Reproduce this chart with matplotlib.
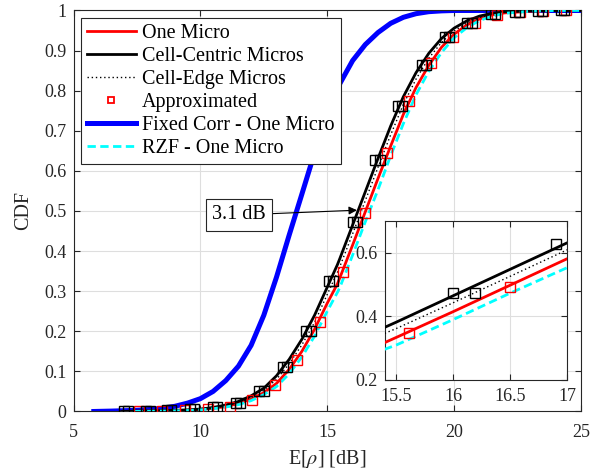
import numpy as np
import matplotlib
matplotlib.use('Agg')
import matplotlib.pyplot as plt

plt.rcParams['font.family'] = ['Liberation Serif', 'DejaVu Serif']
plt.rcParams['mathtext.fontset'] = 'stix'

# curves (x in dB, y = CDF)
blk_x = [6.9, 7.5, 8.5, 9.5, 10.0, 10.5, 11.0, 11.5, 12.0, 12.5, 13.0, 13.5, 14.0, 14.5, 15.0, 15.4, 15.5,
         16.0, 16.5, 17.0, 17.5, 18.0, 18.5, 19.0, 19.5, 20.0, 20.5, 21.0, 21.5, 22.0, 23.0, 24.0, 25.0]
blk_y = [0.0, 0.001, 0.002, 0.004, 0.006, 0.010, 0.016, 0.025, 0.039, 0.058, 0.089, 0.130, 0.180, 0.240, 0.310,
         0.366, 0.382, 0.465, 0.548, 0.631, 0.712, 0.785, 0.845, 0.893, 0.930, 0.956, 0.974, 0.986, 0.993, 0.997,
         0.999, 1.0, 1.0]

dot_x = [7.0, 7.5, 8.5, 9.5, 10.0, 10.5, 11.0, 11.5, 12.0, 12.5, 13.0, 13.5, 14.0, 14.5, 15.0, 15.4, 15.5,
         16.0, 16.5, 17.0, 17.5, 18.0, 18.5, 19.0, 19.5, 20.0, 20.5, 21.0, 21.5, 22.0, 23.0, 24.0, 25.0]
dot_y = [0.0, 0.001, 0.002, 0.003, 0.005, 0.009, 0.014, 0.022, 0.035, 0.053, 0.080, 0.119, 0.166, 0.222, 0.292,
         0.347, 0.362, 0.443, 0.526, 0.609, 0.690, 0.766, 0.829, 0.881, 0.920, 0.949, 0.969, 0.982, 0.991, 0.995,
         0.999, 1.0, 1.0]

red_x = [7.3, 7.5, 8.5, 9.5, 10.0, 10.5, 11.0, 11.5, 12.0, 12.5, 13.0, 13.5, 14.0, 14.5, 15.0, 15.4, 15.5,
         16.0, 16.5, 17.0, 17.5, 18.0, 18.5, 19.0, 19.5, 20.0, 20.5, 21.0, 21.5, 22.0, 23.0, 24.0, 25.0]
red_y = [0.0, 0.0005, 0.0015, 0.003, 0.005, 0.008, 0.012, 0.020, 0.031, 0.047, 0.070, 0.105, 0.150, 0.205, 0.270,
         0.318, 0.334, 0.415, 0.498, 0.581, 0.662, 0.741, 0.808, 0.863, 0.908, 0.941, 0.964, 0.979, 0.989, 0.994,
         0.998, 1.0, 1.0]

cyan_x = [7.4, 7.5, 8.5, 9.5, 10.0, 10.5, 11.0, 11.5, 12.0, 12.5, 13.0, 13.5, 14.0, 14.5, 15.0, 15.4, 15.5,
          16.0, 16.5, 17.0, 17.5, 18.0, 18.5, 19.0, 19.5, 20.0, 20.5, 21.0, 21.5, 22.0, 23.0, 24.0, 25.0]
cyan_y = [0.0, 0.0003, 0.001, 0.0025, 0.004, 0.007, 0.011, 0.017, 0.027, 0.042, 0.062, 0.094, 0.136, 0.188, 0.250,
          0.297, 0.310, 0.390, 0.473, 0.553, 0.638, 0.718, 0.790, 0.848, 0.895, 0.932, 0.957, 0.975, 0.986, 0.993,
          0.998, 1.0, 1.0]

blu_x = [5.8, 6.5, 7.0, 7.5, 8.0, 8.5, 9.0, 9.5, 10.0, 10.5, 11.0, 11.5, 12.0, 12.5, 13.0, 13.5, 14.0, 14.5,
         15.0, 15.5, 16.0, 16.5, 17.0, 17.5, 18.0, 18.5, 19.0, 19.5, 20.0, 21.0, 22.0, 23.0, 24.0, 25.0]
blu_y = [0.0, 0.001, 0.002, 0.003, 0.005, 0.008, 0.013, 0.021, 0.032, 0.050, 0.077, 0.113, 0.165, 0.240, 0.335,
         0.440, 0.542, 0.645, 0.740, 0.818, 0.875, 0.915, 0.945, 0.968, 0.983, 0.992, 0.997, 0.999, 1.0, 1.0,
         1.0, 1.0, 1.0, 1.0]

# approximation markers
sq_cc_x = [7.0, 7.85, 8.7, 9.6, 10.5, 11.4, 12.33, 13.26, 14.15, 15.06, 16.0, 16.9, 17.8, 18.72, 19.63,
           20.5, 21.45, 22.4, 23.3, 24.2]
sq_ce_x = [7.15, 8.0, 8.85, 9.75, 10.65, 11.56, 12.5, 13.43, 14.35, 15.23, 16.19, 17.08, 17.96, 18.88, 19.8,
           20.7, 21.6, 22.55, 23.45, 24.35]
sq_blk_y = [0.001, 0.002, 0.003, 0.005, 0.010, 0.022, 0.051, 0.110, 0.200, 0.325, 0.472, 0.627, 0.762, 0.864,
            0.935, 0.970, 0.990, 0.997, 0.999, 1.0]
sq_red_x = [7.6, 8.5, 9.4, 10.3, 11.17, 12.04, 12.94, 13.8, 14.7, 15.61, 16.5, 17.36, 18.22, 19.08, 19.95,
            20.82, 21.7, 22.6, 23.5, 24.4]
sq_red_y = [0.001, 0.002, 0.003, 0.005, 0.010, 0.029, 0.066, 0.128, 0.224, 0.347, 0.494, 0.644, 0.775, 0.870,
            0.935, 0.968, 0.988, 0.996, 0.999, 1.0]

AX_COL = '#262626'
GRID_COL = '#dedede'
FS = 14.5


def draw(ax):
    ax.plot(blu_x, blu_y, color='#0000ff', lw=3.6, label='Fixed Corr - One Micro', zorder=2)
    ax.plot(red_x, red_y, color='#ff0000', lw=2.0, label='One Micro', zorder=3)
    ax.plot(blk_x, blk_y, color='k', lw=2.0, label='Cell-Centric Micros', zorder=3)
    ax.plot(dot_x, dot_y, color='k', lw=1.0, ls=(0, (1, 2)), label='Cell-Edge Micros', zorder=3)
    ax.plot(cyan_x, cyan_y, color='#00ffff', lw=2.0, ls=(0, (3, 1.6)), label='RZF - One Micro', zorder=3)
    ax.plot(sq_red_x, sq_red_y, ls='none', marker='s', ms=6.5, mfc='none', mec='#ff0000', mew=1.0,
            label='Approximated', zorder=4)
    ax.plot(sq_cc_x, sq_blk_y, ls='none', marker='s', ms=6.5, mfc='none', mec='k', mew=1.0, zorder=4)
    ax.plot(sq_ce_x, sq_blk_y, ls='none', marker='s', ms=6.5, mfc='none', mec='k', mew=1.0, zorder=4)


def style(ax):
    ax.grid(True, color=GRID_COL, lw=0.8)
    ax.set_axisbelow(True)
    ax.tick_params(direction='in', top=True, right=True, colors=AX_COL, labelsize=13, length=4)
    ax.tick_params(axis='x', pad=9)
    ax.tick_params(axis='y', pad=5)
    for s in ax.spines.values():
        s.set_color(AX_COL)
        s.set_linewidth(0.8)


fig = plt.figure(figsize=(6.02, 4.70), dpi=100)
ax = fig.add_axes([0.1221, 0.1245, 0.843, 0.8532])
draw(ax)
style(ax)
ax.set_xlim(5, 25)
ax.set_ylim(0, 1)
ax.set_xticks([5, 10, 15, 20, 25])
ax.set_yticks(np.arange(0, 1.01, 0.1))
ax.set_yticklabels(['0', '0.1', '0.2', '0.3', '0.4', '0.5', '0.6', '0.7', '0.8', '0.9', '1'])
ax.set_xlabel(r'E[$\rho$] [dB]', fontsize=FS, color=AX_COL, labelpad=5)
ax.set_ylabel('CDF', fontsize=FS, color=AX_COL, labelpad=8)

h, l = ax.get_legend_handles_labels()
order = ['One Micro', 'Cell-Centric Micros', 'Cell-Edge Micros', 'Approximated',
         'Fixed Corr - One Micro', 'RZF - One Micro']
hd = dict(zip(l, h))
leg = ax.legend([hd[k] for k in order], order, loc='upper left', fontsize=FS, frameon=True, fancybox=False,
                edgecolor=AX_COL, framealpha=1, borderaxespad=0.35, labelspacing=0.2, handlelength=2.45,
                handletextpad=0.3, borderpad=0.3)
leg.get_frame().set_linewidth(0.8)
leg.legend_handles[3].set_markersize(5)
leg.legend_handles[3].set_markeredgewidth(1.3)
leg.set_zorder(5)

ax.annotate('3.1 dB', xy=(16.17, 0.502), xytext=(11.53, 0.49), fontsize=FS, ha='center', va='center',
            bbox=dict(boxstyle='square,pad=0.3', fc='white', ec=AX_COL, lw=0.8),
            arrowprops=dict(arrowstyle='-|>', color='k', lw=0.8, mutation_scale=12, shrinkA=0, shrinkB=0),
            zorder=6)

ins = fig.add_axes([0.6395, 0.1915, 0.3023, 0.3383])
draw(ins)
style(ins)
ins.tick_params(axis='x', pad=6)
ins.set_xlim(15.4, 17)
ins.set_ylim(0.2, 0.7)
ins.set_xticks([15.5, 16, 16.5, 17])
ins.set_xticklabels(['15.5', '16', '16.5', '17'])
ins.set_yticks([0.2, 0.4, 0.6])
ins.set_yticklabels(['0.2', '0.4', '0.6'])
ins.set_facecolor('white')

fig.savefig('out.png', dpi=100)
